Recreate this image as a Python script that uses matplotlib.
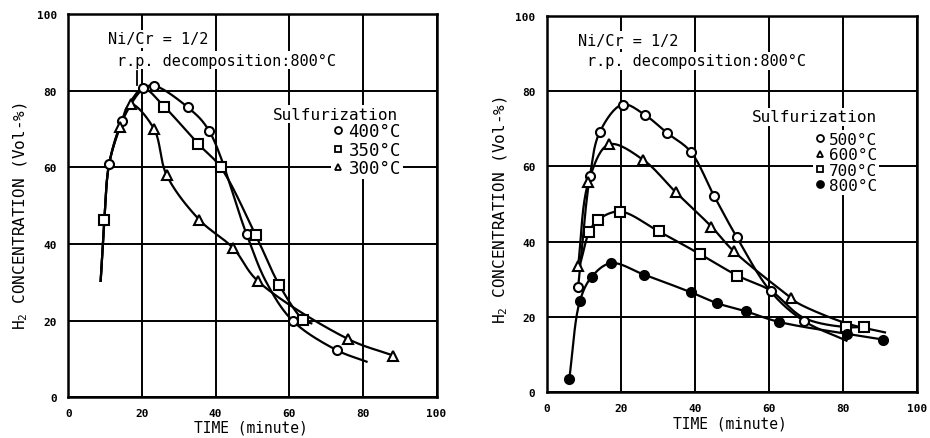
import numpy as np
import matplotlib
matplotlib.use("Agg")
import matplotlib.pyplot as plt
from matplotlib.lines import Line2D

plt.rcParams["font.family"] = ["DejaVu Sans Mono", "DejaVu Sans"]
plt.rcParams["mathtext.default"] = "regular"

TICKS = [0, 20, 40, 60, 80, 100]

# ---- left panel: sulfurization at 400 / 350 / 300 C
t400 = [11.1, 14.7, 20.4, 23.3, 32.4, 38.2, 48.4, 60.9, 72.9]
h400 = [60.9, 72.2, 80.6, 81.3, 75.7, 69.6, 42.6, 20.0, 12.3]
t350 = [9.8, 26.1, 35.3, 41.4, 50.9, 57.3, 63.8]
h350 = [46.3, 75.8, 66.1, 60.0, 42.3, 29.3, 20.2]
t300 = [14.0, 16.9, 23.3, 26.7, 35.6, 44.8, 51.4, 76.0, 88.2]
h300 = [70.4, 76.5, 70.0, 58.0, 46.3, 38.9, 30.4, 15.2, 10.9]

# extra points along the hand drawn curves (no marker there)
t400_line = [8.8, 9.8, 53.8, 81.0]
h400_line = [30.4, 46.3, 30.0, 9.3]
t350_line = [8.8, 11.1, 14.7, 17.5, 20.4, 66.0]
h350_line = [30.4, 60.9, 72.2, 78.0, 80.6, 19.3]
t300_line = [8.8, 9.8, 11.1]
h300_line = [30.4, 46.3, 60.9]

# ---- right panel: sulfurization at 500 / 600 / 700 / 800 C
t500 = [8.5, 11.7, 14.4, 20.5, 26.6, 32.6, 38.9, 45.2, 51.3, 60.5, 69.4]
h500 = [27.9, 57.5, 69.2, 76.4, 73.6, 68.8, 63.9, 52.2, 41.3, 26.8, 19.0]
t600 = [8.5, 11.3, 16.8, 26.1, 34.9, 44.5, 50.6, 66.1]
h600 = [33.6, 55.8, 65.8, 61.7, 53.1, 44.0, 37.4, 25.0]
t700 = [11.5, 13.9, 19.8, 30.3, 41.4, 51.5, 80.9, 85.8]
h700 = [42.6, 45.8, 48.0, 42.7, 36.7, 31.0, 17.3, 17.4]
t800 = [6.1, 9.0, 12.2, 17.4, 26.4, 39.1, 45.9, 53.8, 62.7, 81.2, 90.9]
h800 = [3.5, 24.3, 30.7, 34.3, 31.2, 26.5, 23.7, 21.5, 18.7, 15.5, 14.0]

t500_line = [81.0]
h500_line = [13.7]
t600_line = [68.0, 81.0, 91.4]
h600_line = [23.6, 18.3, 15.9]
t700_line = [9.3, 60.5, 69.4]
h700_line = [35.0, 27.0, 19.8]
t800_line = []
h800_line = []


def smooth(px, py, n=20):
    # centripetal catmull-rom through the read points, just for drawing
    p = np.column_stack([px, py]).astype(float)
    p = np.vstack([2 * p[0] - p[1], p, 2 * p[-1] - p[-2]])
    out = []
    for i in range(1, len(p) - 2):
        p0, p1, p2, p3 = p[i - 1], p[i], p[i + 1], p[i + 2]
        t0 = 0.0
        t1 = t0 + np.linalg.norm(p1 - p0) ** 0.5
        t2 = t1 + np.linalg.norm(p2 - p1) ** 0.5
        t3 = t2 + np.linalg.norm(p3 - p2) ** 0.5
        t = np.linspace(t1, t2, n)[:, None]
        a1 = (t1 - t) / (t1 - t0) * p0 + (t - t0) / (t1 - t0) * p1
        a2 = (t2 - t) / (t2 - t1) * p1 + (t - t1) / (t2 - t1) * p2
        a3 = (t3 - t) / (t3 - t2) * p2 + (t - t2) / (t3 - t2) * p3
        b1 = (t2 - t) / (t2 - t0) * a1 + (t - t0) / (t2 - t0) * a2
        b2 = (t3 - t) / (t3 - t1) * a2 + (t - t1) / (t3 - t1) * a3
        c = (t2 - t) / (t2 - t1) * b1 + (t - t1) / (t2 - t1) * b2
        out.append(c if i == 1 else c[1:])
    c = np.vstack(out)
    return c[:, 0], c[:, 1]


def draw_series(ax, t, h, t_line, h_line, marker, filled=False):
    pts = sorted(zip(list(t) + list(t_line), list(h) + list(h_line)))
    xs, ys = smooth([q[0] for q in pts], [q[1] for q in pts])
    ax.plot(xs, ys, color="black", lw=1.6, zorder=3)
    ax.plot(t, h, ls="none", marker=marker, ms=6.5 if marker != "^" else 7,
            mfc="black" if filled else "white", mec="black", mew=1.5, zorder=4)


def setup_axes(ax):
    ax.set_xlim(0, 100)
    ax.set_ylim(0, 100)
    ax.set_xticks(TICKS)
    ax.set_yticks(TICKS)
    ax.tick_params(length=0, pad=8, labelsize=8)
    for lab in ax.get_xticklabels() + ax.get_yticklabels():
        lab.set_fontweight("bold")
    ax.grid(color="black", lw=1.4)
    ax.set_axisbelow(True)
    for sp in ax.spines.values():
        sp.set_linewidth(1.8)
    ax.set_xlabel("TIME (minute)", fontsize=10.5)
    ax.set_ylabel(r"$\mathregular{H_2}$ CONCENTRATION (Vol-%)", fontsize=11.5)


def add_legend(ax, labels, markers, fills, title_xy, anchor, size):
    box = dict(facecolor="white", edgecolor="none", pad=1)
    ax.text(title_xy[0], title_xy[1], "Sulfurization", fontsize=11.5,
            ha="right", va="center", bbox=box, zorder=5)
    handles = []
    for lab, m, f in zip(labels, markers, fills):
        handles.append(Line2D([], [], ls="none", marker=m, ms=5,
                              mfc="black" if f else "white", mec="black", mew=1.3,
                              label=lab))
    leg = ax.legend(handles=handles, loc="center right",
                    bbox_to_anchor=anchor, bbox_transform=ax.transData,
                    frameon=True, fancybox=False,
                    edgecolor="none", facecolor="white", framealpha=1,
                    fontsize=size, borderpad=0.1,
                    labelspacing=0.02, handlelength=0.6, handletextpad=0.3,
                    borderaxespad=0)
    leg.set_zorder(5)


def add_header(ax, x1, x2):
    box = dict(facecolor="white", edgecolor="none", pad=1)
    ax.text(x1, 93.5, "Ni/Cr = 1/2", fontsize=11, va="center", bbox=box, zorder=5)
    ax.text(x2, 88.0, "r.p. decomposition:800°C", fontsize=11, va="center",
            bbox=box, zorder=5)


fig = plt.figure(figsize=(9.3, 4.39), dpi=100)
ax1 = fig.add_axes([0.0734, 0.0927, 0.396, 0.873])
ax2 = fig.add_axes([0.5878, 0.1041, 0.398, 0.858])

# left
setup_axes(ax1)
draw_series(ax1, t400, h400, t400_line, h400_line, "o")
draw_series(ax1, t350, h350, t350_line, h350_line, "s")
draw_series(ax1, t300, h300, t300_line, h300_line, "^")
ax1.plot([18.6, 18.6], [85.2, 81.5], color="black", lw=1.3, zorder=3)
add_header(ax1, 10.8, 13.2)
add_legend(ax1, ["400°C", "350°C", "300°C"], ["o", "s", "^"],
           [False, False, False], (89.6, 73.9), (90.8, 64.6), 12.5)
ax1.yaxis.set_label_coords(-0.104, 0.474)
ax1.xaxis.set_label_coords(0.495, -0.058)

# right
setup_axes(ax2)
draw_series(ax2, t500, h500, t500_line, h500_line, "o")
draw_series(ax2, t600, h600, t600_line, h600_line, "^")
draw_series(ax2, t700, h700, t700_line, h700_line, "s")
draw_series(ax2, t800, h800, t800_line, h800_line, "o", filled=True)
add_header(ax2, 8.5, 10.8)
add_legend(ax2, ["500°C", "600°C", "700°C", "800°C"], ["o", "^", "s", "o"],
           [False, False, False, True], (89.2, 73.2), (89.8, 61.0), 11.5)
ax2.yaxis.set_label_coords(-0.099, 0.487)
ax2.xaxis.set_label_coords(0.495, -0.062)

fig.savefig("out.png", dpi=100)
